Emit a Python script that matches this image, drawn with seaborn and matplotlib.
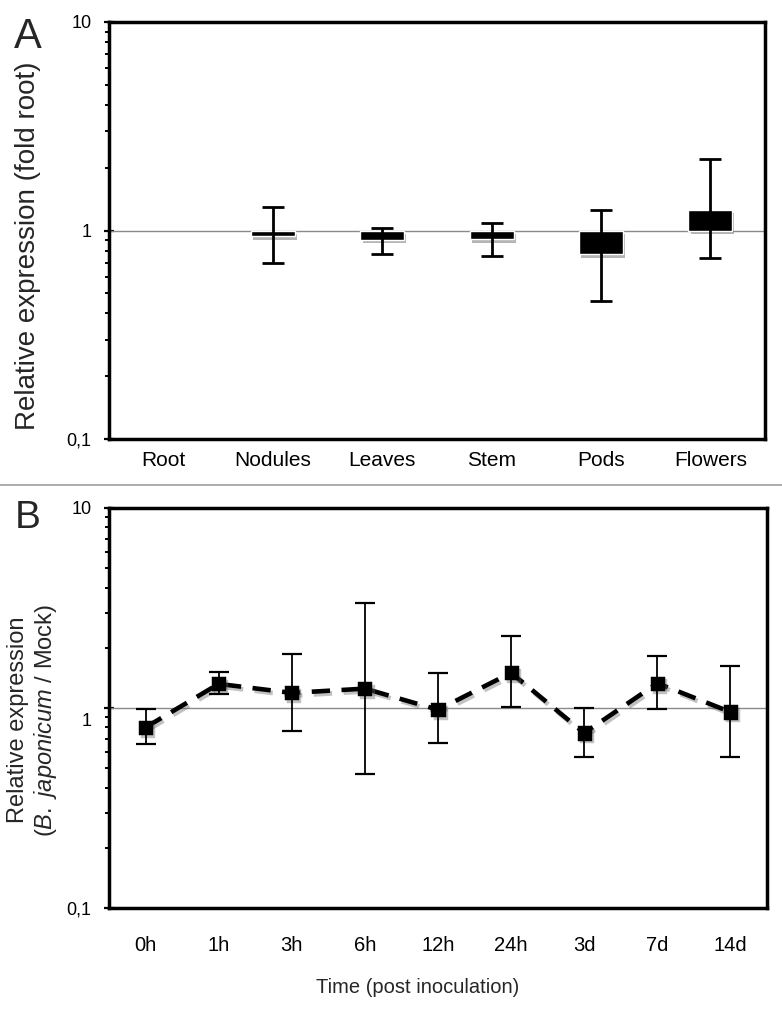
import numpy as np
import matplotlib
matplotlib.use("Agg")
import matplotlib.pyplot as plt
import matplotlib.patheffects as pe
from matplotlib.ticker import FixedLocator, FixedFormatter, LogLocator, NullFormatter
from matplotlib.transforms import ScaledTranslation
from matplotlib.lines import Line2D
import seaborn as sns

# ---------------- data ----------------
tissues = ["Root", "Nodules", "Leaves", "Stem", "Pods", "Flowers"]
tissue_expr = [1.0, 0.94, 0.903, 0.91, 0.77, 1.26]
tissue_lo = [np.nan, 0.696, 0.77, 0.752, 0.46, 0.736]
tissue_hi = [np.nan, 1.29, 1.03, 1.087, 1.25, 2.2]

times = ["0h", "1h", "3h", "6h", "12h", "24h", "3d", "7d", "14d"]
time_expr = [0.80, 1.32, 1.19, 1.25, 0.98, 1.50, 0.75, 1.33, 0.955]
time_lo = [0.66, 1.18, 0.77, 0.47, 0.67, 1.01, 0.57, 0.99, 0.57]
time_hi = [0.99, 1.51, 1.86, 3.35, 1.49, 2.28, 1.0, 1.81, 1.63]

ytick_vals = [0.1, 1, 10]
ytick_labels = ["0,1", "1", "10"]

# ---------------- style ----------------
sns.set_theme(style="ticks")
plt.rcParams["font.family"] = ["Liberation Sans", "DejaVu Sans"]
plt.rcParams["mathtext.fontset"] = "custom"
plt.rcParams["mathtext.rm"] = "Liberation Sans"
plt.rcParams["mathtext.it"] = "Liberation Sans:italic"

W, H = 782, 1017
fig = plt.figure(figsize=(W / 100, H / 100), dpi=100)
fig.patch.set_facecolor("white")

def fx(px):
    return px / W

def fy(py):
    return 1 - py / H

axA = fig.add_axes([fx(109), fy(439), fx(765) - fx(109), fy(22) - fy(439)])
axB = fig.add_axes([fx(109), fy(908), fx(767) - fx(109), fy(508) - fy(908)])


def style_log_axis(ax):
    ax.set_yscale("log")
    ax.set_ylim(0.1, 10)
    ax.yaxis.set_major_locator(FixedLocator(ytick_vals))
    ax.yaxis.set_major_formatter(FixedFormatter(ytick_labels))
    ax.yaxis.set_minor_locator(LogLocator(base=10, subs=np.arange(2, 10)))
    ax.yaxis.set_minor_formatter(NullFormatter())
    for s in ax.spines.values():
        s.set_linewidth(2.5)
        s.set_color("black")
        s.set_visible(True)
    ax.tick_params(axis="y", which="major", direction="inout", length=7,
                   width=1.6, labelsize=13, pad=9, colors="black")
    ax.tick_params(axis="y", which="minor", direction="out", length=3,
                   width=1.4, colors="black")
    ax.tick_params(axis="x", which="both", length=0)
    ax.axhline(1, color="#8a8a8a", lw=1.0, zorder=1)
    ax.set_xlabel("")
    ax.set_ylabel("")


# ---------------- panel A ----------------
xA = np.arange(len(tissues))
vals = np.array(tissue_expr)
bars = axA.bar(xA, vals - 1, bottom=1, width=0.4, color="black", zorder=3)
for b, v in zip(bars, vals):
    if v == 1:
        b.set_visible(False)
        continue
    b.set_path_effects([pe.SimplePatchShadow(offset=(1.5, -2.5), shadow_rgbFace="0.35", alpha=0.45),
                        pe.Normal()])
lo = np.array(tissue_lo)
hi = np.array(tissue_hi)
m = ~np.isnan(lo)
axA.errorbar(xA[m], vals[m], yerr=[vals[m] - lo[m], hi[m] - vals[m]], fmt="none",
             ecolor="black", elinewidth=2, capsize=8, capthick=2, zorder=4)
axA.set_xlim(-0.5, len(tissues) - 0.5)
style_log_axis(axA)
axA.set_xticks(xA)
axA.set_xticklabels(tissues)
axA.tick_params(axis="x", labelsize=15, pad=9, colors="black")

# ---------------- panel B ----------------
sns.pointplot(x=times, y=time_expr, order=times, color="black", markers="s",
              linestyles="--", errorbar=None, ax=axB, markersize=8, linewidth=3.3)
style_log_axis(axB)
line = axB.lines[0]
line.set_linestyle((0, (4, 2.5)))
line.set_zorder(3)
line.set_path_effects([pe.SimpleLineShadow(offset=(1.5, -2), shadow_color="0.4", alpha=0.4),
                       pe.Normal()])
xB = np.arange(len(times))
tv = np.array(time_expr)
axB.errorbar(xB, tv, yerr=[tv - np.array(time_lo), np.array(time_hi) - tv], fmt="none",
             ecolor="black", elinewidth=1.3, capsize=7, capthick=1.6, zorder=4)
axB.set_xlim(-0.5, len(times) - 0.5)
axB.set_xticks(xB)
axB.set_xticklabels(times)
axB.tick_params(axis="x", labelsize=14.5, pad=20, colors="black")
axB.set_xlabel("")
axB.set_ylabel("")

# shift the "1" label of panel B slightly down as in the reference
tk = axB.yaxis.get_major_ticks()[1]
tk.label1.set_transform(tk.label1.get_transform() +
                        ScaledTranslation(0, -8 / 72, fig.dpi_scale_trans))

# ---------------- texts ----------------
fig.text(fx(28), fy(48), "A", fontsize=30, ha="center", va="baseline")
fig.text(fx(27.5), fy(528), "B", fontsize=28, ha="center", va="baseline")
fig.text(fx(28.5), fy(246), "Relative expression (fold root)", rotation=90,
         fontsize=20, ha="center", va="center")
fig.text(fx(18), fy(720), "Relative expression", rotation=90,
         fontsize=17, ha="center", va="center")
fig.text(fx(46), fy(720), "($\\mathit{B.\\ japonicum}$ / Mock)", rotation=90,
         fontsize=17, ha="center", va="center")
fig.text(fx(418), fy(993), "Time (post inoculation)", fontsize=14.5,
         ha="center", va="baseline")

# separator line between panels
fig.add_artist(Line2D([0, 1], [fy(485), fy(485)], transform=fig.transFigure,
                      color="#a0a0a0", lw=1.2))

fig.savefig("out.png", dpi=100, facecolor="white")
